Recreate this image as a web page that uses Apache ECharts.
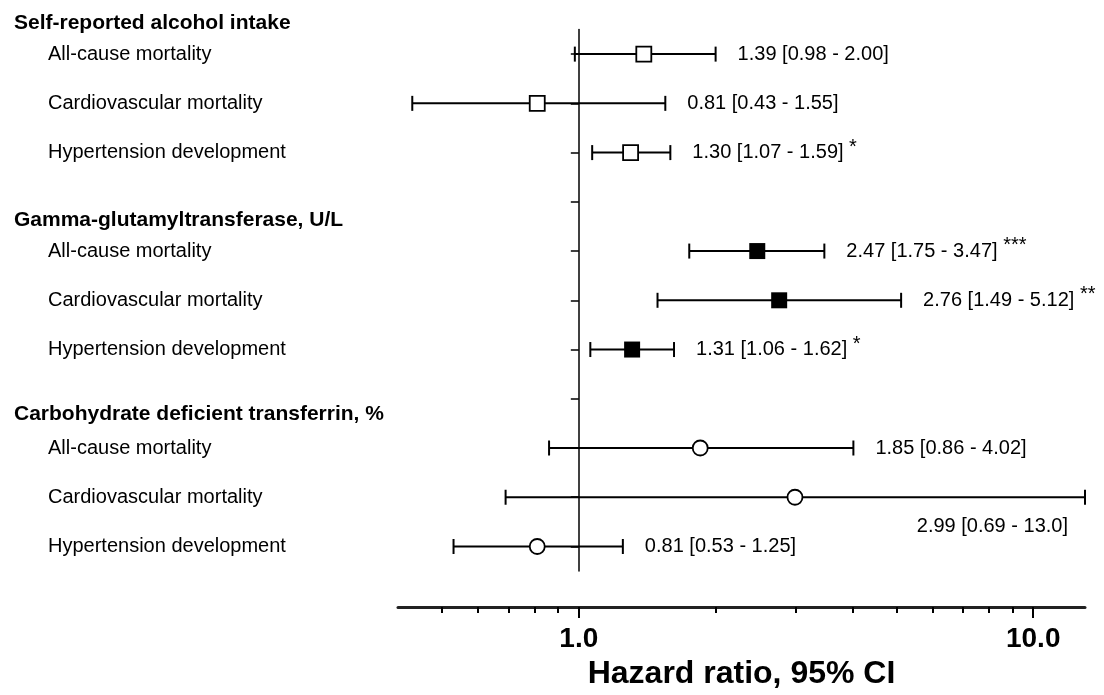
<!DOCTYPE html>
<html>
<head>
<meta charset="utf-8">
<script src="https://cdn.jsdelivr.net/npm/echarts@6/dist/echarts.min.js"></script>
<style>
  html, body { margin: 0; padding: 0; background: #fff; }
  #chart { width: 1104px; height: 695px; }
</style>
</head>
<body>
<div id="chart"></div>
<script>
// rows top to bottom, '' = spacer row
const rowLabels = [
  'All-cause mortality', 'Cardiovascular mortality', 'Hypertension development', '',
  'All-cause mortality', 'Cardiovascular mortality', 'Hypertension development', '',
  'All-cause mortality', 'Cardiovascular mortality', 'Hypertension development'
];
const groupHeaders = [
  'Self-reported alcohol intake',
  'Gamma-glutamyltransferase, U/L',
  'Carbohydrate deficient transferrin, %'
];
const headerY = [25, 222, 416];

// hazard ratio, lower CI, upper CI, significance, row index
const hr    = [1.39, 0.81, 1.30, 2.47, 2.76, 1.31, 1.85, 2.99, 0.81];
const lower = [0.98, 0.43, 1.07, 1.75, 1.49, 1.06, 0.86, 0.69, 0.53];
const upper = [2.00, 1.55, 1.59, 3.47, 5.12, 1.62, 4.02, 13.0, 1.25];
const stars = ['', '', '*', '***', '**', '*', '', '', ''];
const rowOf = [0, 1, 2, 4, 5, 6, 8, 9, 10];
const ciText = ['1.39 [0.98 - 2.00]', '0.81 [0.43 - 1.55]', '1.30 [1.07 - 1.59]',
  '2.47 [1.75 - 3.47]', '2.76 [1.49 - 5.12]', '1.31 [1.06 - 1.62]',
  '1.85 [0.86 - 4.02]', '2.99 [0.69 - 13.0]', '0.81 [0.53 - 1.25]'];

const majorTicks = [1, 10];
const minorTicks = [0.5, 0.6, 0.7, 0.8, 0.9, 2, 3, 4, 5, 6, 7, 8, 9];

const xMin = 0.4, xMax = 13;
const gridLeft = 398, gridRight = 19, gridTop = 29.5, gridBottom = 121;
const gridW = 1104 - gridLeft - gridRight;
// place the reference line axis at HR = 1
const refOffset = -gridW * (Math.log10(1) - Math.log10(xMin)) / (Math.log10(xMax) - Math.log10(xMin));

const FONT = 'Liberation Sans, Arial, sans-serif';

function pts(idxs) {
  return idxs.map(i => [hr[i], rowOf[i]]);
}

const ciData = hr.map((v, i) => [lower[i], upper[i], rowOf[i]]);
const labelData = hr.map((v, i) => {
  const item = { value: [upper[i], rowOf[i]], txt: ciText[i], st: stars[i] };
  if (i === 7) {
    item.label = { position: [-17, 29], align: 'right', verticalAlign: 'middle' };
  }
  return item;
});

const chart = echarts.init(document.getElementById('chart'), null, { renderer: 'canvas' });

chart.setOption({
  animation: false,
  backgroundColor: '#fff',
  grid: { left: gridLeft, right: gridRight, top: gridTop, bottom: gridBottom },
  xAxis: [
    {
      type: 'log', logBase: 10, min: xMin, max: xMax,
      position: 'bottom', offset: 36,
      axisLine: { show: true, lineStyle: { color: '#222', width: 3 } },
      axisTick: { show: true, customValues: majorTicks, length: 11, lineStyle: { color: '#000', width: 2 } },
      axisLabel: {
        customValues: majorTicks, margin: 18,
        formatter: v => Number(v).toFixed(1),
        color: '#000', fontFamily: FONT, fontWeight: 'bold', fontSize: 28
      },
      splitLine: { show: false },
      minorTick: { show: false },
      name: 'Hazard ratio, 95% CI', nameLocation: 'middle', nameGap: 47,
      nameTextStyle: { color: '#000', fontFamily: FONT, fontWeight: 'bold', fontSize: 32 }
    },
    {
      type: 'log', logBase: 10, min: xMin, max: xMax,
      position: 'bottom', offset: 36,
      axisLine: { show: false },
      axisTick: { show: true, customValues: minorTicks, length: 6, lineStyle: { color: '#000', width: 2 } },
      axisLabel: { show: false },
      splitLine: { show: false }
    }
  ],
  yAxis: [
    {
      type: 'category', inverse: true, data: rowLabels,
      axisLine: { show: false }, axisTick: { show: false }, splitLine: { show: false },
      axisLabel: { align: 'left', margin: gridLeft - 48, color: '#000', fontFamily: FONT, fontSize: 20 }
    },
    {
      type: 'category', inverse: true, data: rowLabels, position: 'left', offset: refOffset,
      axisLine: { show: true, lineStyle: { color: '#000', width: 1.5 } },
      axisTick: { show: true, alignWithLabel: true, length: 8, lineStyle: { color: '#000', width: 1.5 } },
      axisLabel: { show: false }, splitLine: { show: false }
    }
  ],
  graphic: groupHeaders.map((h, i) => ({
    type: 'text', left: 14, top: headerY[i] - 12,
    style: { text: h, font: 'bold 21px ' + FONT, fill: '#000' }
  })),
  series: [
    {
      type: 'custom', name: 'CI', data: ciData, z: 2,
      encode: { x: [0, 1], y: 2 },
      renderItem: function (params, api) {
        const y = api.value(2);
        const a = api.coord([api.value(0), y]);
        const b = api.coord([api.value(1), y]);
        const cap = 7.5;
        const style = { stroke: '#000', lineWidth: 2 };
        return {
          type: 'group',
          children: [
            { type: 'line', shape: { x1: a[0], y1: a[1], x2: b[0], y2: b[1] }, style },
            { type: 'line', shape: { x1: a[0], y1: a[1] - cap, x2: a[0], y2: a[1] + cap }, style },
            { type: 'line', shape: { x1: b[0], y1: b[1] - cap, x2: b[0], y2: b[1] + cap }, style }
          ]
        };
      }
    },
    {
      type: 'scatter', name: 'Self-reported', data: pts([0, 1, 2]), z: 5,
      symbol: 'rect', symbolSize: 15,
      itemStyle: { color: '#fff', borderColor: '#000', borderWidth: 1.8, opacity: 1 }
    },
    {
      type: 'scatter', name: 'GGT', data: pts([3, 4, 5]), z: 5,
      symbol: 'rect', symbolSize: 16,
      itemStyle: { color: '#000', opacity: 1 }
    },
    {
      type: 'scatter', name: 'CDT', data: pts([6, 7, 8]), z: 5,
      symbol: 'circle', symbolSize: 15,
      itemStyle: { color: '#fff', borderColor: '#000', borderWidth: 1.8, opacity: 1 }
    },
    {
      type: 'scatter', name: 'labels', data: labelData, z: 6,
      symbolSize: 0, silent: true,
      itemStyle: { opacity: 1 },
      label: {
        show: true, position: 'right', distance: 22,
        formatter: p => '{v|' + p.data.txt + '}' + (p.data.st ? '{s| ' + p.data.st + '}' : ''),
        rich: {
          v: { color: '#000', fontFamily: FONT, fontSize: 20 },
          s: { color: '#000', fontFamily: FONT, fontSize: 20, padding: [0, 0, 11, 0] }
        }
      }
    }
  ]
});
</script>
</body>
</html>
